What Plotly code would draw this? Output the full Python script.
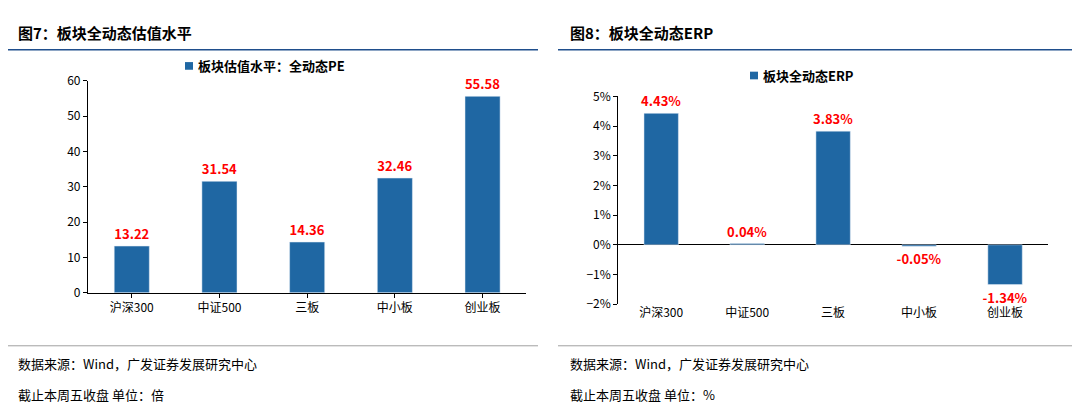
import plotly.graph_objects as go

cats = ['沪深300', '中证500', '三板', '中小板', '创业板']
pe = [13.22, 31.54, 14.36, 32.46, 55.58]
erp = [4.43, 0.04, 3.83, -0.05, -1.34]
pe_text = ['13.22', '31.54', '14.36', '32.46', '55.58']
erp_text = ['4.43%', '0.04%', '3.83%', '-0.05%', '-1.34%']

blue = '#1f67a3'
red = '#ff0000'
font = 'Noto Sans CJK SC'

fig = go.Figure()
fig.add_trace(go.Bar(x=cats, y=pe, text=pe_text, textposition='outside', cliponaxis=False,
                     constraintext='none',
                     textfont=dict(color=red, size=13, family=font), marker_color=blue,
                     width=0.4, name='板块估值水平：全动态PE', xaxis='x', yaxis='y'))
fig.add_trace(go.Bar(x=cats, y=erp, text=erp_text, textposition='outside', cliponaxis=False,
                     constraintext='none',
                     textfont=dict(color=red, size=13, family=font), marker_color=blue,
                     width=0.4, name='板块全动态ERP', xaxis='x2', yaxis='y2', showlegend=False))

ax = dict(showgrid=False, ticks='outside', tickcolor='black', ticklen=4,
          tickfont=dict(size=12, family=font, color='black'), linecolor='black', showline=True)
fig.update_layout(
    width=1080, height=409, margin=dict(l=0, r=0, t=0, b=0),
    paper_bgcolor='white', plot_bgcolor='white', showlegend=False,
    xaxis=dict(domain=[0.074, 0.48], anchor='y', **ax),
    yaxis=dict(domain=[0.299, 0.840], anchor='x', range=[0, 60], dtick=10, zeroline=False, **ax),
    xaxis2=dict(domain=[0.565, 0.963], anchor='y2', showgrid=False, showline=False, ticks='',
                tickfont=dict(size=12, family=font, color='black')),
    yaxis2=dict(domain=[0.270, 0.800], anchor='x2', range=[-2, 5], dtick=1, ticksuffix='%',
                zeroline=True, zerolinecolor='black', zerolinewidth=1, **ax),
)

shapes = []
for x0, x1 in [(0, 530), (550, 1080)]:
    shapes.append(dict(type='line', xref='paper', yref='paper', x0=x0/1080, x1=x1/1080,
                       y0=1-33/409, y1=1-33/409, line=dict(color='#1f4e8c', width=1.5)))
    shapes.append(dict(type='line', xref='paper', yref='paper', x0=x0/1080, x1=x1/1080,
                       y0=1-342/409, y1=1-342/409, line=dict(color='#a0a0a0', width=1)))
# legend swatches
for lx, ly in [(177, 50), (742, 60)]:
    shapes.append(dict(type='rect', xref='paper', yref='paper', x0=lx/1080, x1=(lx+8)/1080,
                       y0=1-(ly+4)/409, y1=1-(ly-4)/409, fillcolor=blue, line_width=0))
fig.update_layout(shapes=shapes)

def txt(x, y, s, size=13, bold=False):
    fig.add_annotation(xref='paper', yref='paper', x=x/1080, y=1-y/409, text=('<b>%s</b>' % s) if bold else s,
                       showarrow=False, xanchor='left', yanchor='middle',
                       font=dict(size=size, family=font, color='black'))

txt(8, 15, '图7：板块全动态估值水平', 15, True)
txt(560, 15, '图8：板块全动态ERP', 15, True)
txt(188, 50, '板块估值水平：全动态PE', 13, True)
txt(753, 60, '板块全动态ERP', 13, True)
txt(8, 360, '数据来源：Wind，广发证券发展研究中心', 13)
txt(8, 393, '截止本周五收盘 单位：倍', 13)
txt(560, 360, '数据来源：Wind，广发证券发展研究中心', 13)
txt(560, 393, '截止本周五收盘 单位：%', 13)

fig.for_each_trace(lambda t: t.update(text=['<b>%s</b>' % s for s in t.text]))
fig.write_html('out.html')
